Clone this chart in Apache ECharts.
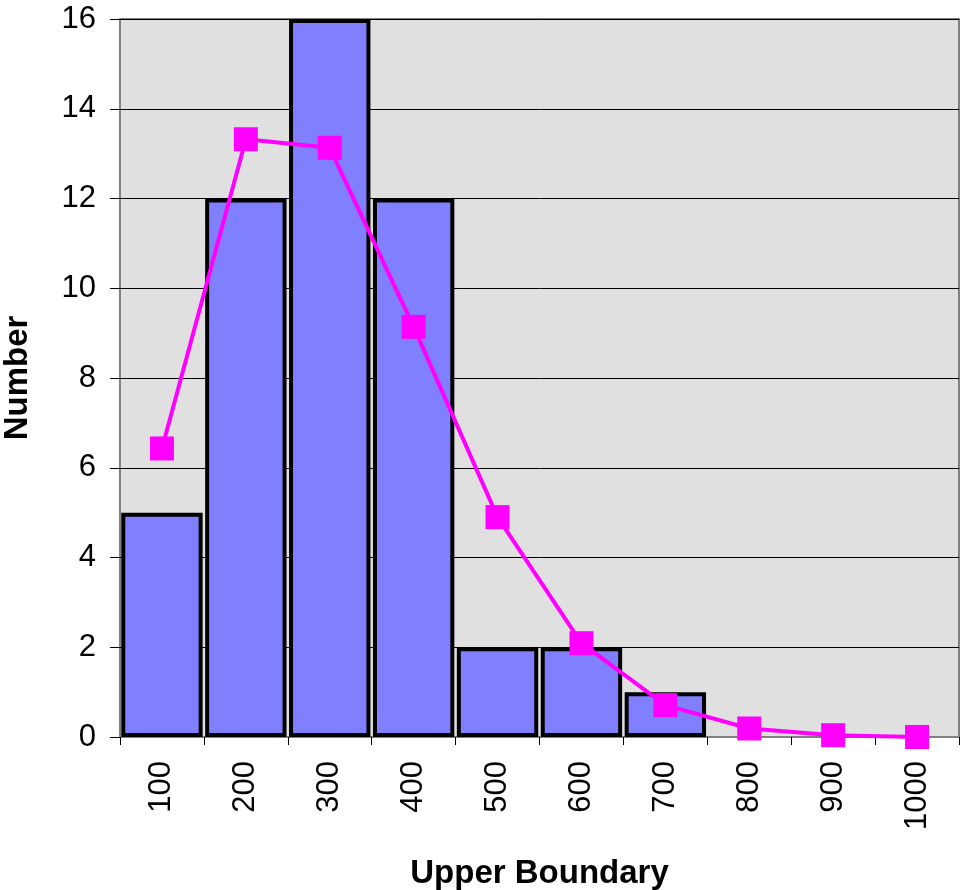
<!DOCTYPE html>
<html>
<head>
<meta charset="utf-8">
<style>
  html, body { margin: 0; padding: 0; background: #ffffff; }
  #chart { width: 962px; height: 890px; }
</style>
<script src="https://cdn.jsdelivr.net/npm/echarts@6/dist/echarts.min.js"></script>
</head>
<body>
<div id="chart"></div>
<script>
// Histogram bins (upper boundary of each bin)
const categories = ['100', '200', '300', '400', '500', '600', '700', '800', '900', '1000'];
// Observed counts per bin
const observed = [5, 12, 16, 12, 2, 2, 1, 0, 0, 0];
// Expected counts per bin from the fitted curve
const expected = [6.43, 13.32, 13.13, 9.14, 4.90, 2.09, 0.71, 0.19, 0.04, 0.00];
// Y axis range
const yMin = 0, yMax = 16, yStep = 2;

const chart = echarts.init(document.getElementById('chart'), null, { renderer: 'canvas' });
const fontFamily = 'Arial, "Liberation Sans", Helvetica, sans-serif';

// Empty bins get no outline so they leave no mark on the axis
const barData = observed.map(v => ({
  value: v,
  itemStyle: v === 0 ? { borderWidth: 0, opacity: 0 } : undefined
}));

chart.setOption({
  animation: false,
  backgroundColor: '#ffffff',
  grid: {
    left: 120, right: 3, top: 19, bottom: 153,
    containLabel: false,
    outerBoundsMode: 'none',
    show: true,
    backgroundColor: '#E0E0E0',
    borderColor: '#808080',
    borderWidth: 2
  },
  xAxis: {
    type: 'category',
    data: categories,
    name: 'Upper Boundary',
    nameLocation: 'middle',
    nameGap: 120,
    nameTextStyle: { fontFamily, fontSize: 33, fontWeight: 'bold', color: '#000' },
    axisLine: { show: true, lineStyle: { color: '#808080', width: 2 } },
    axisTick: { show: true, length: 8, alignWithLabel: false, lineStyle: { color: '#000', width: 1 } },
    axisLabel: {
      rotate: 90,
      margin: 24,
      fontFamily, fontSize: 31, color: '#000'
    },
    splitLine: { show: false }
  },
  yAxis: {
    type: 'value',
    min: yMin, max: yMax, interval: yStep,
    name: 'Number',
    nameLocation: 'middle',
    nameGap: 86,
    nameRotate: 90,
    nameTextStyle: { fontFamily, fontSize: 33, fontWeight: 'bold', color: '#000' },
    axisLine: { show: false },
    axisTick: { show: true, length: 10, lineStyle: { color: '#000', width: 1 } },
    axisLabel: { margin: 24, fontFamily, fontSize: 31, color: '#000' },
    splitLine: { show: true, lineStyle: { color: '#000', width: 1 } }
  },
  series: [
    {
      name: 'Observed',
      type: 'bar',
      data: barData,
      barCategoryGap: '3%',
      itemStyle: { color: '#8080FF', borderColor: '#000', borderWidth: 4 },
      z: 2
    },
    {
      name: 'Expected',
      type: 'line',
      data: expected,
      symbol: 'rect',
      symbolSize: 24,
      showAllSymbol: true,
      lineStyle: { color: '#FF00FF', width: 4 },
      itemStyle: { color: '#FF00FF' },
      z: 3
    }
  ]
});
</script>
</body>
</html>
